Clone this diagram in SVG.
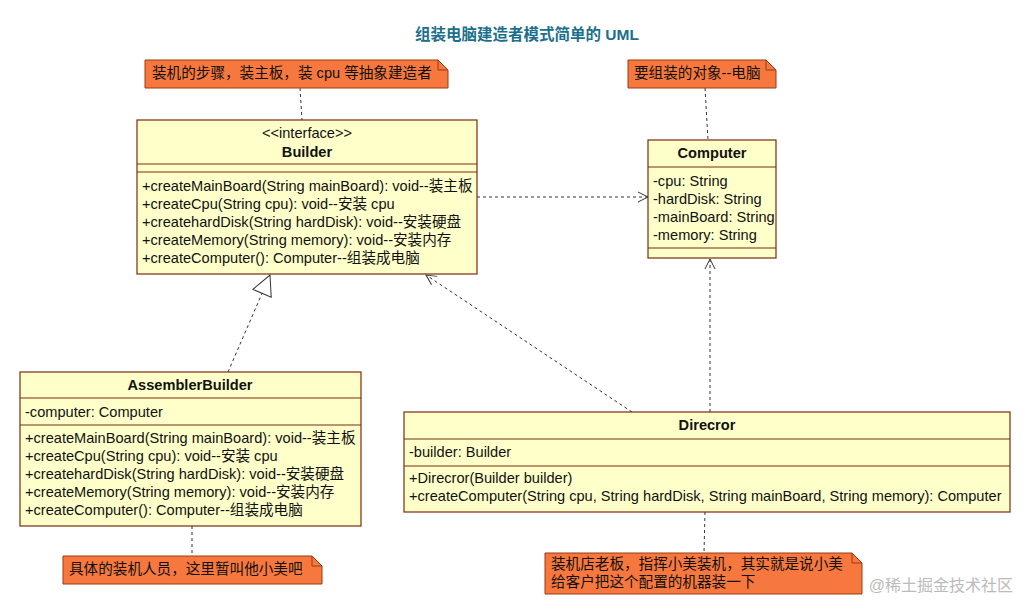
<svg xmlns="http://www.w3.org/2000/svg" width="1031" height="615" viewBox="0 0 1031 615">
<style>
text{font-family:"Liberation Sans","Noto Sans CJK SC",sans-serif;font-size:14.6px;fill:#111}
.cls{fill:#ffffca;stroke:#7a2a10;stroke-width:1.2}
.ln{stroke:#7a2a10;stroke-width:1.2}
.b{font-weight:bold;text-anchor:middle}
.note{fill:#f7783f;stroke:#9a3a10;stroke-width:1}
.c{fill:none;stroke:#333;stroke-width:1;stroke-dasharray:3,3}
</style>
<defs>
<marker id="open" viewBox="0 0 12 12" refX="11" refY="6" markerWidth="12" markerHeight="12" orient="auto" markerUnits="userSpaceOnUse"><path d="M1,1 L11,6 L1,11" fill="none" stroke="#333"/></marker>
<marker id="tri" viewBox="0 0 22 22" refX="21" refY="11" markerWidth="22" markerHeight="22" orient="auto" markerUnits="userSpaceOnUse"><path d="M1,1 L21,11 L1,21 Z" fill="#fff" stroke="#333"/></marker>
</defs>
<rect width="1031" height="615" fill="#fff"/>
<text x="527" y="40" class="b" style="fill:#1b6f8a;font-size:15.5px">组装电脑建造者模式简单的 UML</text>
<g id="connectors">
<line class="c" x1="300" y1="88" x2="302" y2="120"/>
<line class="c" x1="705" y1="88" x2="708" y2="140"/>
<line class="c" x1="477" y1="197" x2="648" y2="197" marker-end="url(#open)"/>
<line class="c" x1="228" y1="372" x2="270" y2="275" marker-end="url(#tri)"/>
<line class="c" x1="192" y1="526" x2="192" y2="556"/>
<line class="c" x1="632" y1="412" x2="426" y2="275" marker-end="url(#open)"/>
<line class="c" x1="710" y1="412" x2="710" y2="259" marker-end="url(#open)"/>
<line class="c" x1="705" y1="512" x2="704" y2="553"/>
</g>
<g id="note1"><path class="note" d="M145,60 H438 L448,70 V88 H145 Z"/><path d="M438,60 V70 H448" fill="none" stroke="#9a3a10"/><text x="152" y="78">装机的步骤，装主板，装 cpu 等抽象建造者</text></g>
<g id="note2"><path class="note" d="M628,60 H766 L776,70 V88 H628 Z"/><path d="M766,60 V70 H776" fill="none" stroke="#9a3a10"/><text x="634" y="78">要组装的对象--电脑</text></g>
<g id="note3"><path class="note" d="M63,556 H312 L322,566 V584 H63 Z"/><path d="M312,556 V566 H322" fill="none" stroke="#9a3a10"/><text x="69" y="574">具体的装机人员，这里暂叫他小美吧</text></g>
<g id="note4"><path class="note" d="M545,553 H852 L862,563 V594 H545 Z"/><path d="M852,553 V563 H862" fill="none" stroke="#9a3a10"/><text x="551" y="569">装机店老板，指挥小美装机，其实就是说小美</text><text x="551" y="587">给客户把这个配置的机器装一下</text></g>
<g id="builder">
<rect class="cls" x="137" y="120" width="340" height="154"/>
<line class="ln" x1="137" y1="164" x2="477" y2="164"/><line class="ln" x1="137" y1="172" x2="477" y2="172"/>
<text x="307" y="138" style="text-anchor:middle">&lt;&lt;interface&gt;&gt;</text>
<text x="307" y="157" class="b">Builder</text>
<text x="142" y="191">+createMainBoard(String mainBoard): void--装主板</text>
<text x="142" y="209">+createCpu(String cpu): void--安装 cpu</text>
<text x="142" y="227">+createhardDisk(String hardDisk): void--安装硬盘</text>
<text x="142" y="245">+createMemory(String memory): void--安装内存</text>
<text x="142" y="263">+createComputer(): Computer--组装成电脑</text>
</g>
<g id="computer">
<rect class="cls" x="648" y="140" width="128" height="118"/>
<line class="ln" x1="648" y1="167" x2="776" y2="167"/><line class="ln" x1="648" y1="248" x2="776" y2="248"/>
<text x="712" y="158" class="b">Computer</text>
<text x="653" y="186">-cpu: String</text>
<text x="653" y="204">-hardDisk: String</text>
<text x="653" y="222">-mainBoard: String</text>
<text x="653" y="240">-memory: String</text>
</g>
<g id="assembler">
<rect class="cls" x="20" y="372" width="341" height="154"/>
<line class="ln" x1="20" y1="398" x2="361" y2="398"/><line class="ln" x1="20" y1="425" x2="361" y2="425"/>
<text x="190" y="390" class="b">AssemblerBuilder</text>
<text x="25" y="417">-computer: Computer</text>
<text x="25" y="443">+createMainBoard(String mainBoard): void--装主板</text>
<text x="25" y="461">+createCpu(String cpu): void--安装 cpu</text>
<text x="25" y="479">+createhardDisk(String hardDisk): void--安装硬盘</text>
<text x="25" y="497">+createMemory(String memory): void--安装内存</text>
<text x="25" y="515">+createComputer(): Computer--组装成电脑</text>
</g>
<g id="direcror">
<rect class="cls" x="404" y="412" width="606" height="100"/>
<line class="ln" x1="404" y1="439" x2="1010" y2="439"/><line class="ln" x1="404" y1="466" x2="1010" y2="466"/>
<text x="707" y="430" class="b">Direcror</text>
<text x="409" y="457">-builder: Builder</text>
<text x="409" y="483">+Direcror(Builder builder)</text>
<text x="409" y="501">+createComputer(String cpu, String hardDisk, String mainBoard, String memory): Computer</text>
</g>
<text x="1013" y="591" style="text-anchor:end;fill:#bbb;font-size:16px">@稀土掘金技术社区</text>
</svg>
